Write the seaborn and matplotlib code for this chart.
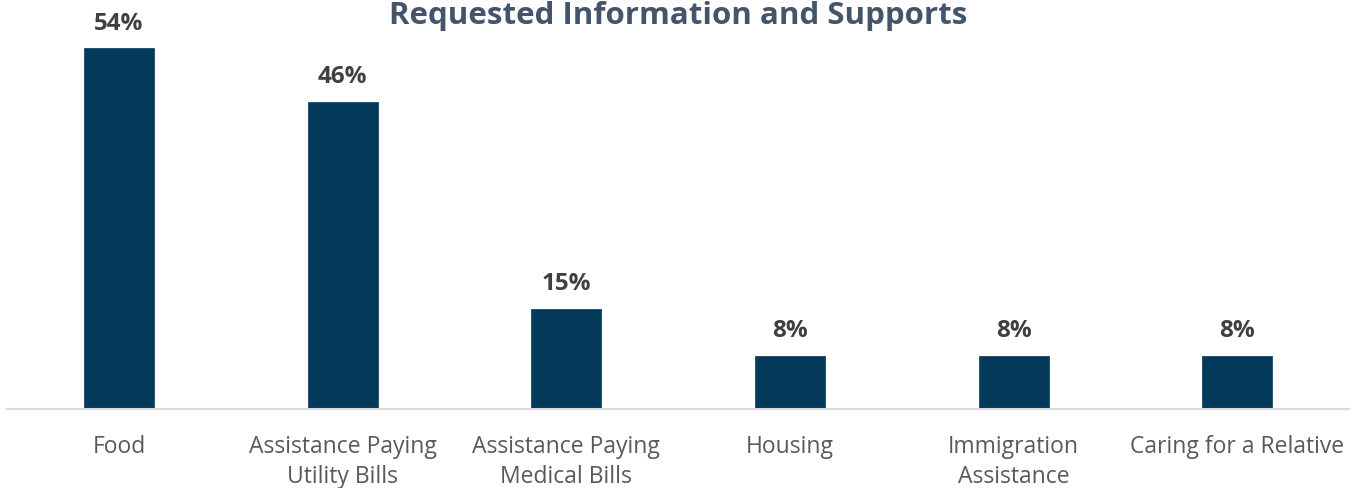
import matplotlib
matplotlib.use("Agg")
import matplotlib.pyplot as plt
import seaborn as sns
import pandas as pd

categories = ["Food", "Assistance Paying\nUtility Bills", "Assistance Paying\nMedical Bills",
              "Housing", "Immigration\nAssistance", "Caring for a Relative"]
values = [54, 46, 15, 8, 8, 8]
value_labels = ["54%", "46%", "15%", "8%", "8%", "8%"]
title = "Requested Information and Supports"

df = pd.DataFrame({"category": categories, "value": values})

sns.set_theme(style="white")
plt.rcParams["font.family"] = ["Open Sans", "DejaVu Sans"]

fig = plt.figure(figsize=(13.6, 4.89), dpi=100)
ax = fig.add_axes([0.0053, 79 / 489, 0.9868, 410 / 489])

sns.barplot(data=df, x="category", y="value", color="#03395A", width=0.313,
            saturation=1, ax=ax, edgecolor="#03395A", linewidth=0.5)

ax.set_ylim(0, 61.4)
ax.set_xlim(-0.5, len(categories) - 0.5)
ax.set_xlabel("")
ax.set_ylabel("")
ax.set_yticks([])
for s in ["top", "right", "left"]:
    ax.spines[s].set_visible(False)
ax.spines["bottom"].set_color("#D9D9D9")
ax.spines["bottom"].set_linewidth(1.5)
ax.tick_params(axis="x", length=0, pad=18, labelsize=16.5, labelcolor="#595959")
for lbl in ax.get_xticklabels():
    lbl.set_linespacing(1.36)

for i, (v, t) in enumerate(zip(values, value_labels)):
    ax.annotate(t, (i, v), xytext=(0, 14), textcoords="offset points",
                ha="center", va="baseline", fontsize=17.5, fontweight="bold",
                color="#404040")

fig.text(0.4985, 1 - 24 / 489, title, ha="center", va="baseline",
         fontsize=22.5, fontweight="bold", color="#44546A")

fig.savefig("out.png", dpi=100)
